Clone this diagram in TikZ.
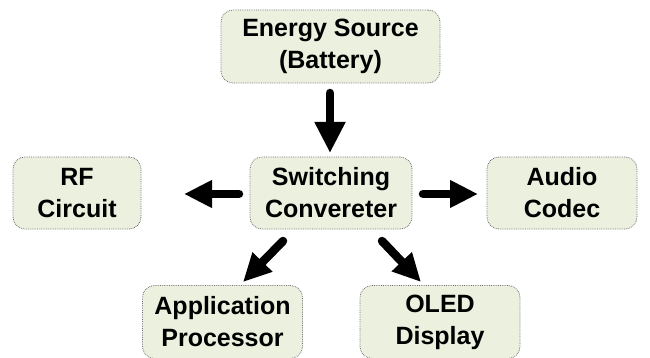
\documentclass[tikz,border=0pt]{standalone}
\usepackage{fontspec}
\setmainfont{Liberation Sans}
\usetikzlibrary{arrows.meta}
\definecolor{boxfill}{HTML}{EBF1DE}
\definecolor{boxline}{HTML}{707070}
\begin{document}
\begin{tikzpicture}[x=1pt,y=-1pt,
  blk/.style={draw=boxline, densely dotted, line width=0.8pt, fill=boxfill, rounded corners=12pt, align=center, font=\bfseries\fontsize{25}{32}\selectfont, inner sep=0pt},
  bigarrow/.style={line width=8.5pt, line cap=round, -{Triangle[width=29pt,length=31pt]}},
  midarrow/.style={line width=8.5pt, line cap=round, -{Triangle[width=26pt,length=28pt]}}]
\useasboundingbox (0,0) rectangle (650,358);
\begin{scope}
\clip (0,0) rectangle (650,358);
\node[blk, minimum width=219pt, minimum height=73pt] (src) at (330.5,46.5) {Energy Source\\(Battery)};
\node[blk, minimum width=128pt, minimum height=72pt] (rf) at (77,193) {RF\\Circuit};
\node[blk, minimum width=162pt, minimum height=72pt] (sw) at (331,193) {Switching\\Convereter};
\node[blk, minimum width=150pt, minimum height=72pt] (au) at (562,193) {Audio\\Codec};
\node[blk, minimum width=160pt, minimum height=73pt] (ap) at (222.5,322) {Application\\Processor};
\node[blk, minimum width=160pt, minimum height=73pt] (ol) at (440,322) {OLED\\Display};
\end{scope}
\coordinate (a1) at (330,93);
\coordinate (a2) at (330,153);
\draw[bigarrow] (a1) -- (a2);
\coordinate (b1) at (239,194);
\coordinate (b2) at (184,194);
\draw[midarrow] (b1) -- (b2);
\coordinate (c1) at (423,194);
\coordinate (c2) at (478,194);
\draw[midarrow] (c1) -- (c2);
\coordinate (d1) at (283,241);
\coordinate (d2) at (243,282);
\draw[midarrow] (d1) -- (d2);
\coordinate (e1) at (382,241);
\coordinate (e2) at (421,282);
\draw[midarrow] (e1) -- (e2);
\end{tikzpicture}
\end{document}
